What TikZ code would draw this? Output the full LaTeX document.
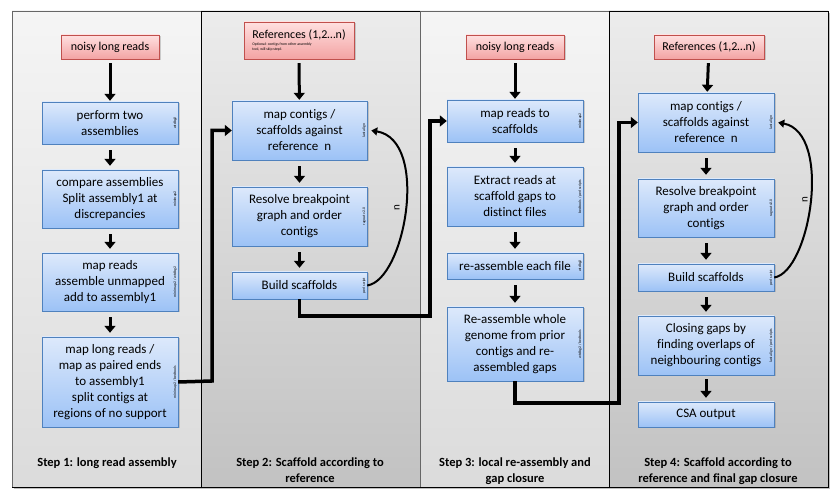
\documentclass[tikz,border=0pt]{standalone}
\usepackage{fontspec}
\setmainfont{Carlito}[Ligatures=NoCommon]
\usetikzlibrary{arrows.meta,shadows}

\definecolor{boxtop}{HTML}{DDE9FB}
\definecolor{boxbot}{HTML}{9CC2F6}
\definecolor{boxline}{HTML}{4F81BD}
\definecolor{redtop}{HTML}{FFE0E0}
\definecolor{redbot}{HTML}{F3A3A3}
\definecolor{redline}{HTML}{C0504D}
\newcommand{\notefont}{\fontsize{3.8}{4.5}\selectfont}

\begin{document}
\begin{tikzpicture}[x=1pt,y=-1pt]
    \tikzset{block/.style= {draw=boxline, rectangle
    , top color=boxtop, bottom color=boxbot
    , minimum width=136pt
    , align=center, inner sep=2pt
    , font=\fontsize{13}{16}\selectfont
    , drop shadow={shadow xshift=1.5pt, shadow yshift=-1.5pt, opacity=.35}
      },
    redblock/.style= {block, draw=redline
    , top color=redtop, bottom color=redbot
    , font=\fontsize{12}{14}\selectfont
      },
    tool/.style= {rotate=90, anchor=south, inner sep=1.2pt
    , font=\notefont
      },
    steplabel/.style= {anchor=north, align=center
    , font=\fontsize{12.5}{16}\selectfont\bfseries
      },
    flow/.style= {draw, line width=3pt
    , -{Triangle[width=11pt,length=7pt]}
      },
    link/.style= {draw, line width=3.5pt
    , -{Triangle[width=11pt,length=7pt]}
      },
    loop/.style= {draw, line width=2pt
    , -{Triangle[width=8pt,length=6pt]}
      }
    }

\useasboundingbox (0,0) rectangle (839,502);
\fill [black, opacity=.25] (14,13) rectangle (830,489);
\path [draw=gray!80!black, top color=gray!8, bottom color=gray!28] (12,11) rectangle (201,487);
\path [draw=black, top color=gray!15, bottom color=gray!48] (201,11) rectangle (420,487);
\path [draw=gray!80!black, top color=gray!8, bottom color=gray!28] (420,11) rectangle (609,487);
\path [draw=black, top color=gray!15, bottom color=gray!48] (609,11) rectangle (828,487);
\draw (12,487) -- (828,487);

% step 1
\node [redblock, minimum width=98pt, minimum height=24pt] (r1) at (110,47) {noisy long reads};
\node [block, minimum height=42pt] (b11) at (110,123) {perform two\\assemblies};
\node [block, minimum height=58pt] (b12) at (110,199) {compare assemblies\\Split assembly1 at\\discrepancies};
\node [block, minimum height=58pt] (b13) at (110,282) {map reads\\assemble unmapped\\add to assembly1};
\node [block, minimum height=90pt] (b14) at (110,382) {map long reads /\\map as paired ends\\to assembly1\\split contigs at\\regions of no support};
\node [tool] at (b11.east) {wtdbg2};
\node [tool] at (b12.east) {minimap2};
\node [tool] at (b13.east) {minimap2 / wtdbg2};
\node [tool] at (b14.east) {minimap2 / bedtools};

% step 2
\node [redblock, minimum width=110pt, minimum height=37pt, align=left] (r2) at (299,40.5)
  {References (1,2…n)\\[-7pt]{\notefont Optional: contigs from other assembly}\\[-9.5pt]{\notefont tool, will skip step1}};
\node [block, minimum width=135pt, minimum height=59pt] (b21) at (299.5,130.5) {map contigs /\\scaffolds against\\reference\ \ n};
\node [block, minimum width=135pt, minimum height=59pt] (b22) at (299.5,216.5) {Resolve breakpoint\\graph and order\\contigs};
\node [block, minimum width=135pt, minimum height=27pt] (b23) at (299.5,285.5) {Build scaffolds};
\node [tool] at (b21.east) {last align};
\node [tool] at (b22.east) {ragout v2.0};
\node [tool] at (b23.east) {perl script};

% step 3
\node [redblock, minimum width=98pt, minimum height=24pt] (r3) at (515,47) {noisy long reads};
\node [block, minimum height=42pt] (b31) at (515,121) {map reads to\\scaffolds};
\node [block, minimum height=59pt] (b32) at (515,196.5) {Extract reads at\\scaffold gaps to\\distinct files};
\node [block, minimum height=26pt] (b33) at (515,266) {re-assemble each file};
\node [block, minimum height=74pt] (b34) at (515,344) {Re-assemble whole\\genome from prior\\contigs and re-\\assembled gaps};
\node [tool] at (b31.east) {minimap2};
\node [tool] at (b32.east) {bedtools / perl scripts};
\node [tool] at (b33.east) {wtdbg2};
\node [tool] at (b34.east) {wtdbg2 / bedtools};

% step 4
\node [redblock, minimum width=110pt, minimum height=24pt] (r4) at (709,47) {References (1,2…n)};
\node [block, minimum height=59pt] (b41) at (706,122.5) {map contigs /\\scaffolds against\\reference\ \ n};
\node [block, minimum height=58pt] (b42) at (706,208) {Resolve breakpoint\\graph and order\\contigs};
\node [block, minimum height=27pt] (b43) at (706,277.5) {Build scaffolds};
\node [block, minimum height=59pt] (b44) at (706,345.5) {Closing gaps by\\finding overlaps of\\neighbouring contigs};
\node [block, minimum height=25pt] (b45) at (706,414.5) {CSA output};
\node [tool] at (b41.east) {last align};
\node [tool] at (b42.east) {ragout v2.0};
\node [tool] at (b43.east) {perl script};
\node [tool] at (b44.east) {last align / perl scripts};

\node [steplabel] (s1) at (107,454) {Step 1: long read assembly};
\node [steplabel] (s2) at (310,454) {Step 2: Scaffold according to\\reference};
\node [steplabel] (s3) at (515,454) {Step 3: local re-assembly and\\gap closure};
\node [steplabel] (s4) at (718,454) {Step 4: Scaffold according to\\reference and final gap closure};

\node [rotate=90, font=\fontsize{11}{11}\selectfont] (n2) at (397,208) {n};
\node [rotate=90, font=\fontsize{11}{11}\selectfont] (n4) at (805,200) {n};

\coordinate (c1) at (212,381);
\coordinate (c2) at (430,316);
\coordinate (c3) at (619,403);

 \path[flow, shorten <=4pt, shorten >=1pt] (r1) -- (b11);
 \path[flow, shorten <=4pt, shorten >=1pt] (r2) -- (b21);
 \path[flow, shorten <=4pt, shorten >=1pt] (r3) -- (b31);
 \path[flow, shorten <=4pt, shorten >=1pt] (r4) -- (b41);
 \path[flow, shorten <=6pt, shorten >=4pt] (b11) -- (b12);
 \path[flow, shorten <=6pt, shorten >=4pt] (b12) -- (b13);
 \path[flow, shorten <=6pt, shorten >=4pt] (b13) -- (b14);
 \path[flow, shorten <=6pt, shorten >=4pt] (b21) -- (b22);
 \path[flow, shorten <=6pt, shorten >=4pt] (b22) -- (b23);
 \path[flow, shorten <=6pt, shorten >=4pt] (b31) -- (b32);
 \path[flow, shorten <=6pt, shorten >=4pt] (b32) -- (b33);
 \path[flow, shorten <=6pt, shorten >=4pt] (b33) -- (b34);
 \path[flow, shorten <=6pt, shorten >=4pt] (b41) -- (b42);
 \path[flow, shorten <=6pt, shorten >=4pt] (b42) -- (b43);
 \path[flow, shorten <=6pt, shorten >=4pt] (b43) -- (b44);
 \path[flow, shorten <=4pt, shorten >=4pt] (b44) -- (b45);

 \path[link] (b14.east) -- (c1) |- (b21.west);
 \path[link] (b23.south) |- (c2) |- (b31.west);
 \path[link] (b34.south) |- (c3) |- (b41.west);

 \path[loop] (b23.east) .. controls (405,280) and (430,140) .. ([xshift=4pt]b21.east);
 \path[loop] (b43.east) .. controls (810,272) and (833,133) .. ([xshift=4pt]b41.east);
\end{tikzpicture}
\end{document}
